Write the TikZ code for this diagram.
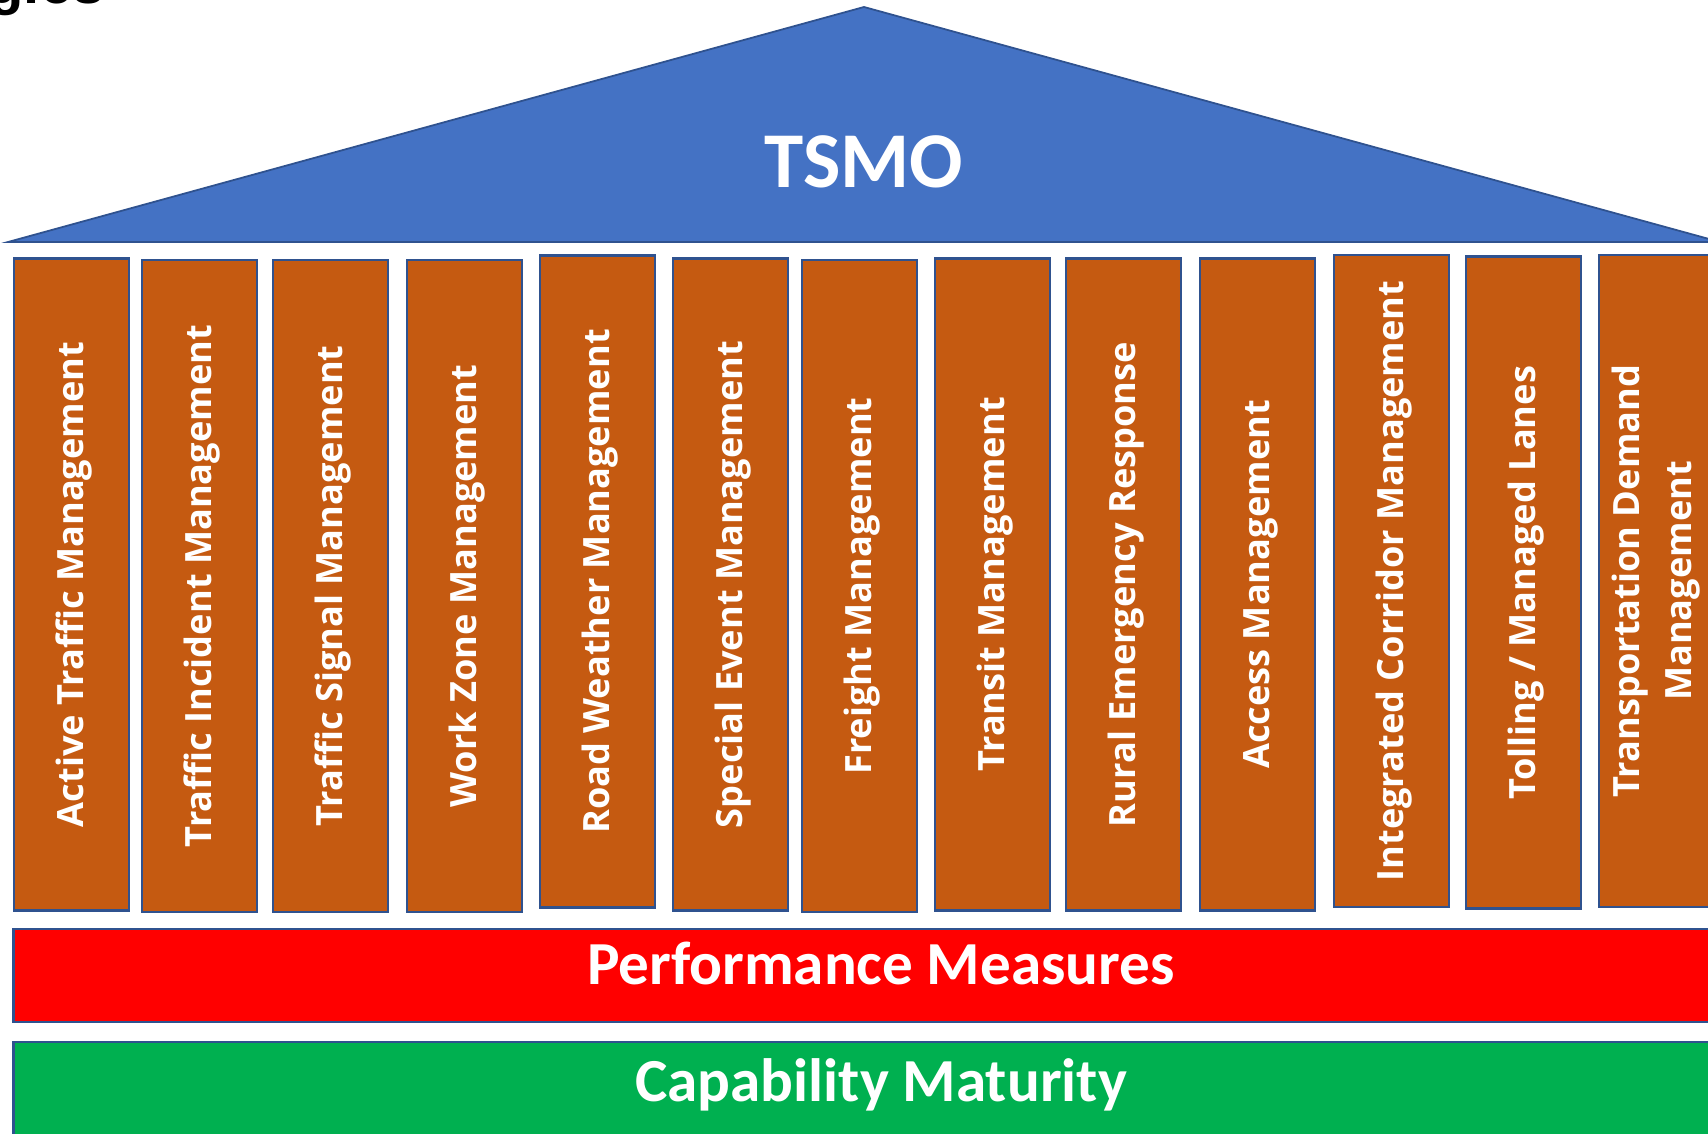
\documentclass[tikz,border=0pt]{standalone}
\usepackage{fontspec}
\setmainfont{Carlito}
\newfontfamily\pillarfont{Open Sans}
\newfontfamily\titlefont{Liberation Sans}
\usepackage{tikz}
\usetikzlibrary{calc}
\definecolor{roofblue}{HTML}{4472C4}
\definecolor{edgeblue}{HTML}{2F528F}
\definecolor{pillarorange}{HTML}{C55A11}
\definecolor{measred}{HTML}{FF0000}
\definecolor{maturegreen}{HTML}{00B050}

\begin{document}
\begin{tikzpicture}[
	pillar/.style={draw=edgeblue, line width=0.8pt, fill=pillarorange, rotate=90,
		minimum width=6.52cm, minimum height=1.15cm, inner sep=0pt, text=white, align=center,
		text height=9.4pt, text depth=2.4pt,
		font=\pillarfont\bfseries\fontsize{10.3}{14.8}\selectfont},
	band/.style={draw=edgeblue, line width=0.8pt},
	bandtext/.style={anchor=base, text=white, font=\bfseries\fontsize{17.4}{20}\selectfont}]
			%%%%% START %%%%%
			\useasboundingbox (0, 0) rectangle (17.08, 11.34);
			\clip (0, 0) rectangle (17.08, 11.34);
			
			\node[anchor=base east, font=\titlefont\bfseries\fontsize{16.5}{18}\selectfont] (title) at (1.17, 11.30) {gies};
			
			\draw[fill=roofblue, draw=edgeblue, line width=0.5pt] (0.08, 8.92) -- (8.64, 11.27) -- (17.20, 8.92) -- cycle;
			\node[text=white, font=\bfseries\fontsize{22.5}{26}\selectfont] (tsmo) at (8.64, 9.72) {TSMO};
			
			\node[pillar] (p1) at (0.715, 5.495) {Active Traffic Management};
			\node[pillar] (p2) at (1.995, 5.48) {Traffic Incident Management};
			\node[pillar] (p3) at (3.305, 5.48) {Traffic Signal Management};
			\node[pillar] (p4) at (4.645, 5.48) {Work Zone Management};
			\node[pillar] (p5) at (5.975, 5.525) {Road Weather Management};
			\node[pillar] (p6) at (7.305, 5.495) {Special Event Management};
			\node[pillar] (p7) at (8.595, 5.48) {Freight Management};
			\node[pillar] (p8) at (9.925, 5.495) {Transit Management};
			\node[pillar] (p9) at (11.235, 5.495) {Rural Emergency Response};
			\node[pillar] (p10) at (12.575, 5.495) {Access Management};
			\node[pillar] (p11) at (13.915, 5.53) {Integrated Corridor Management};
			\node[pillar] (p12) at (15.235, 5.515) {Tolling / Managed Lanes};
			\node[pillar, text height={}, text depth={}] (p13) at (16.565, 5.53) {Transportation Demand\\Management};
			
			\draw[band, fill=measred] (0.133, 2.05) rectangle (17.49, 1.12);
			\node[bandtext] (perf) at (8.81, 1.49) {Performance Measures};
			
			\draw[band, fill=maturegreen] (0.133, 0.92) rectangle (17.49, -0.3);
			\node[bandtext] (cmm) at (8.81, 0.32) {Capability Maturity};
			%%%%% END %%%%%
\end{tikzpicture}
\end{document}
